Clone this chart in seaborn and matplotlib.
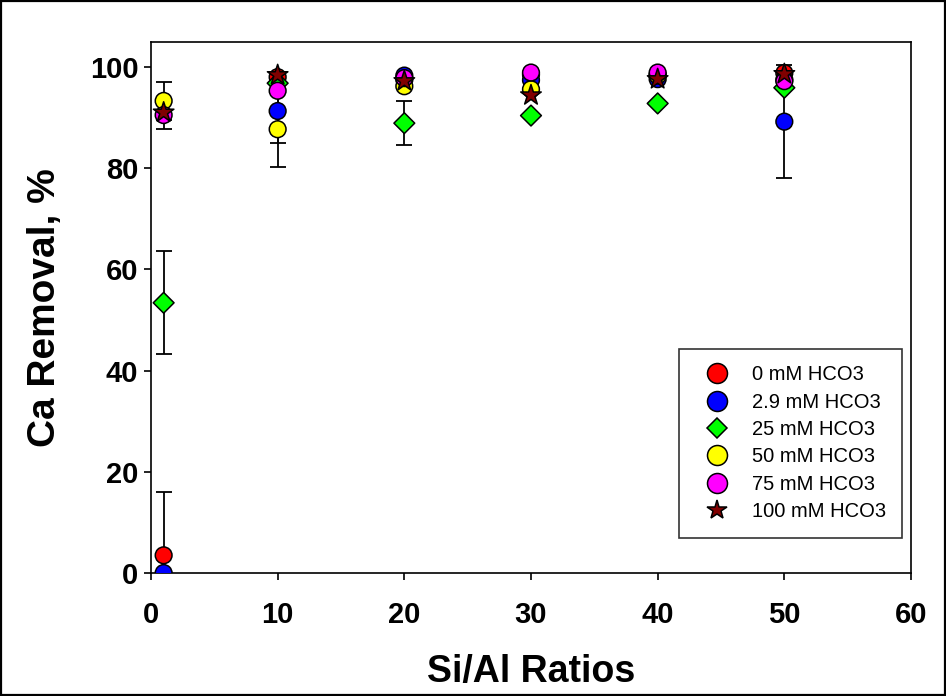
import matplotlib
matplotlib.use("Agg")
import matplotlib.pyplot as plt
from matplotlib.patches import Rectangle
import numpy as np
import pandas as pd
import seaborn as sns

sns.set_style("ticks")
plt.rcParams['font.family'] = ['Liberation Sans', 'DejaVu Sans']
plt.rcParams['text.color'] = 'black'
plt.rcParams['axes.labelcolor'] = 'black'

# Si/Al ratios on the x axis
ratios = [1, 10, 20, 30, 40, 50]

series_names = ["0 mM HCO3", "2.9 mM HCO3", "25 mM HCO3",
                "50 mM HCO3", "75 mM HCO3", "100 mM HCO3"]

# Ca removal, % (hidden points are estimated)
ca_0 = [3.5, 98.0, 97.5, 98.5, 98.5, 98.8]
ca_2_9 = [0.0, 91.3, 98.3, 97.4, 97.6, 89.2]
ca_25 = [53.4, 96.8, 88.9, 90.4, 92.8, 95.9]
ca_50 = [93.3, 87.7, 96.2, 95.6, 98.3, 97.5]
ca_75 = [90.5, 95.3, 97.8, 98.9, 98.9, 97.2]
ca_100 = [91.0, 98.4, 97.2, 94.4, 97.6, 98.6]

# error bars (0 = none drawn)
err_0 = [12.5, 0, 0, 0, 0, 0]
err_2_9 = [0, 6.4, 0, 0, 0, 11.1]
err_25 = [10.2, 0, 4.4, 0, 0, 0]
err_50 = [3.7, 7.4, 0, 0, 0, 0]
err_75 = [2.7, 0, 0, 0, 0, 0]
err_100 = [0, 0, 0, 0, 0, 0]

colors = ["#ff0000", "#0000ff", "#00ff00", "#ffff00", "#ff00ff", "#800000"]
marker_list = ["o", "o", "D", "o", "o", "*"]
marker_sizes = [145, 145, 112, 145, 145, 240]

values = [ca_0, ca_2_9, ca_25, ca_50, ca_75, ca_100]
errors = [err_0, err_2_9, err_25, err_50, err_75, err_100]

frames = []
for name, v, e in zip(series_names, values, errors):
    frames.append(pd.DataFrame({"ratio": ratios, "removal": v, "err": e, "series": name}))
df = pd.concat(frames, ignore_index=True)

fig = plt.figure(figsize=(9.46, 6.96), dpi=100)
ax = fig.add_axes([0.1596, 0.1767, 0.8034, 0.7634])

# error bars first, markers on top
for name in series_names:
    d = df[(df.series == name) & (df.err > 0)]
    if len(d):
        ax.errorbar(d.ratio, d.removal, yerr=d.err, fmt="none", ecolor="black",
                    elinewidth=1.3, capsize=5.5, capthick=1.3, zorder=1)

sns.scatterplot(data=df, x="ratio", y="removal", hue="series", style="series",
                size="series", hue_order=series_names, style_order=series_names,
                size_order=series_names,
                palette=dict(zip(series_names, colors)),
                markers=dict(zip(series_names, marker_list)),
                sizes=dict(zip(series_names, marker_sizes)),
                edgecolor="black", linewidth=1.1, ax=ax, zorder=3)

ax.set_xlim(0, 60)
ax.set_ylim(0, 105)
ax.set_xticks(np.arange(0, 61, 10))
ax.set_yticks(np.arange(0, 101, 20))

for sp in ax.spines.values():
    sp.set_linewidth(1.2)
    sp.set_color("black")
ax.tick_params(direction="out", length=5, width=1.2, colors="black", labelcolor="black")
ax.tick_params(axis="x", pad=15)
ax.tick_params(axis="y", pad=4)
for lab in ax.get_xticklabels() + ax.get_yticklabels():
    lab.set_fontsize(21)
    lab.set_fontweight("bold")

ax.set_xlabel("Si/Al Ratios", fontsize=27, fontweight="bold", labelpad=18)
ax.set_ylabel("Ca Removal, %", fontsize=28, fontweight="bold", labelpad=19)

leg = ax.legend(loc="upper right", bbox_to_anchor=(0.988, 0.4216),
                fontsize=14.5, frameon=True, fancybox=False, labelspacing=0.42,
                handlelength=2.2, handletextpad=0.6, borderpad=0.8, borderaxespad=0)
leg.get_frame().set_edgecolor("black")
leg.get_frame().set_linewidth(1.2)
leg_sizes = [14.4, 14.4, 10.6, 14.4, 14.4, 14.5]
for h, ms in zip(leg.legend_handles, leg_sizes):
    h.set_markeredgecolor("black")
    h.set_markersize(ms)

fig.patches.append(Rectangle((0.001, 0.0015), 0.998, 0.997, transform=fig.transFigure,
                             fill=False, edgecolor="black", linewidth=1.6))

fig.savefig("out.png", dpi=100)
